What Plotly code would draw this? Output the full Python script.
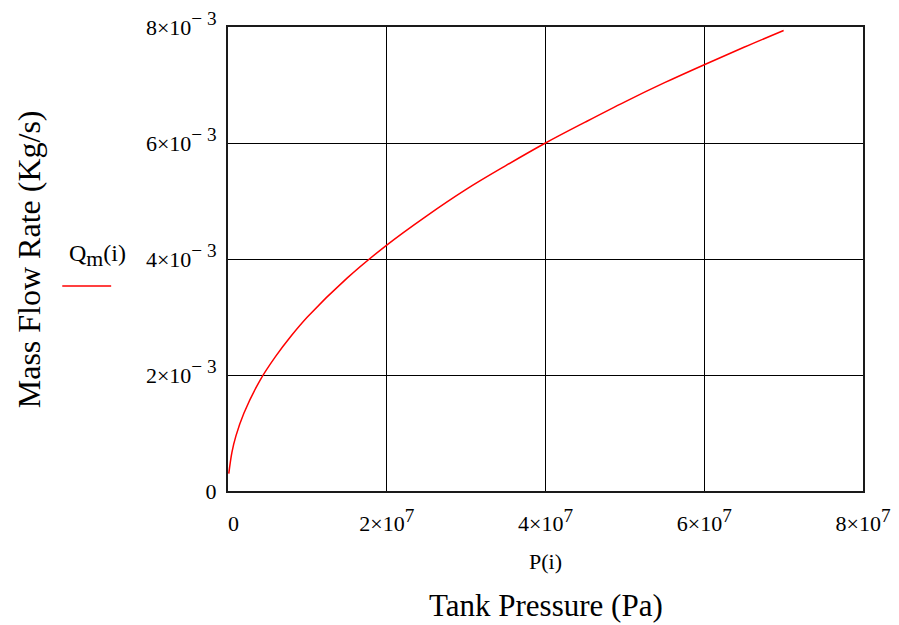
import plotly.graph_objects as go

# Data (Tank pressure in Pa, mass flow rate in kg/s)
pressure = [0.1e6, 0.5e6, 1e6, 2e6, 4e6, 6e6, 8e6, 1e7, 1.5e7, 2e7, 2.5e7, 3e7,
            3.5e7, 4e7, 4.5e7, 5e7, 5.5e7, 6e7, 6.5e7, 7e7]
flow_rate = [0.30e-3, 0.67e-3, 0.95e-3, 1.34e-3, 1.90e-3, 2.32e-3, 2.68e-3, 3.00e-3,
             3.67e-3, 4.24e-3, 4.74e-3, 5.20e-3, 5.61e-3, 6.00e-3, 6.36e-3, 6.71e-3,
             7.04e-3, 7.35e-3, 7.65e-3, 7.94e-3]

SUP = '<sup><span style="font-size:1.25em">{}</span></sup>'
x_tickvals = [0, 2e7, 4e7, 6e7, 8e7]
x_ticktext = ["  0"] + ["{}×10".format(m) + SUP.format("7") for m in (2, 4, 6, 8)]
y_tickvals = [0, 2e-3, 4e-3, 6e-3, 8e-3]
y_ticktext = ["0"] + ["{}×10".format(m) + SUP.format("− 3") for m in (2, 4, 6, 8)]

FONT = "Liberation Serif"

fig = go.Figure()
fig.add_trace(go.Scatter(x=pressure, y=flow_rate, mode="lines",
                         line=dict(color="#ff0000", width=1.5, shape="spline"),
                         showlegend=False, hoverinfo="skip"))

axis_common = dict(showgrid=True, gridcolor="#000000", gridwidth=1, automargin=False,
                   showline=True, linecolor="#1a1a1a", linewidth=2, mirror=True,
                   zeroline=False, ticks="", tickfont=dict(family=FONT, size=22, color="#000"))

fig.update_layout(
    width=899, height=625,
    margin=dict(l=228, r=36, t=27, b=134),
    paper_bgcolor="white", plot_bgcolor="white",
    font=dict(family=FONT, color="#000"),
    xaxis=dict(range=[0, 8e7], tickmode="array", tickvals=x_tickvals, ticktext=x_ticktext,
               ticklabelstandoff=12, **axis_common),
    yaxis=dict(range=[0, 8e-3], tickmode="array", tickvals=y_tickvals, ticktext=y_ticktext,
               ticklabelstandoff=5, **axis_common),
    annotations=[
        dict(text="Mass Flow Rate (Kg/s)", xref="paper", yref="paper", x=-0.313, y=0.5,
             xanchor="center", yanchor="middle", textangle=-90, showarrow=False,
             font=dict(family=FONT, size=32)),
        dict(text="Tank Pressure (Pa)", xref="paper", yref="paper", x=0.5, y=-0.246,
             xanchor="center", yanchor="middle", showarrow=False,
             font=dict(family=FONT, size=31)),
        dict(text="P(i)", xref="paper", yref="paper", x=0.5, y=-0.153,
             xanchor="center", yanchor="middle", showarrow=False,
             font=dict(family=FONT, size=22)),
        dict(text='Q<sub><span style="font-size:1.3em">m</span></sub>(i)', xref="paper", yref="paper",
             x=-0.206, y=0.507, xanchor="center", yanchor="middle", showarrow=False,
             font=dict(family=FONT, size=24)),
    ],
    shapes=[
        dict(type="line", xref="paper", yref="paper", x0=-0.261, x1=-0.184, y0=0.442, y1=0.442,
             line=dict(color="#ff0000", width=1.5)),
    ],
)

fig.write_html("out.html")
